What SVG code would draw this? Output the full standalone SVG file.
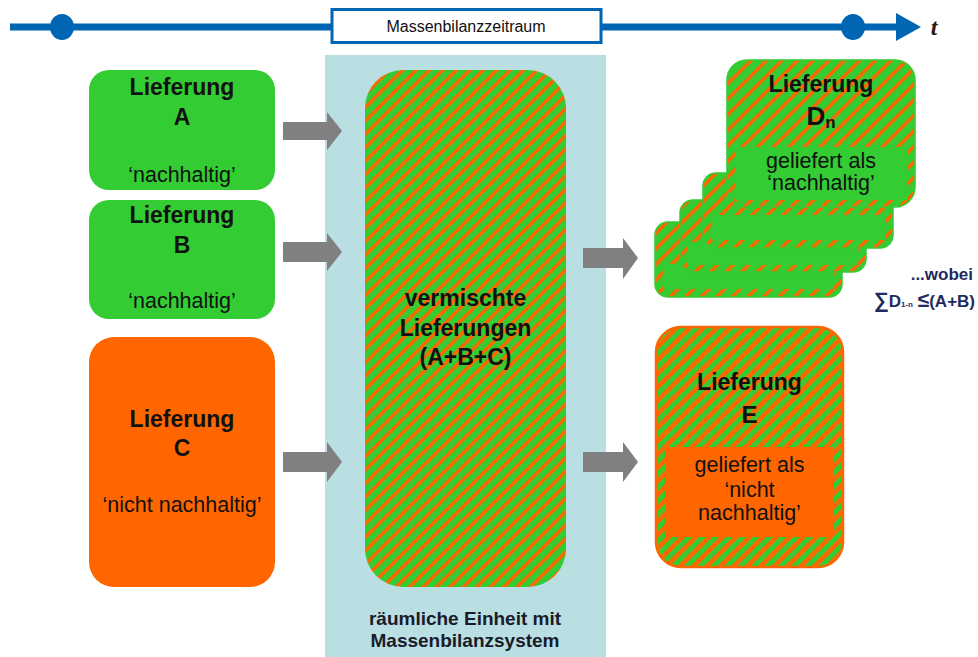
<svg xmlns="http://www.w3.org/2000/svg" width="978" height="657" viewBox="0 0 978 657">
<defs>
<pattern id="stripeG" patternUnits="userSpaceOnUse" width="9.5" height="9.5" patternTransform="rotate(45)">
<rect width="9.5" height="9.5" fill="#33cc33"/>
<rect width="3.5" height="9.5" fill="#ff6600"/>
</pattern>
<pattern id="stripeD" patternUnits="userSpaceOnUse" width="11" height="11" patternTransform="rotate(45)">
<rect width="11" height="11" fill="#33cc33"/>
<rect width="3.5" height="11" fill="#ff6600"/>
</pattern>
<pattern id="stripeO" patternUnits="userSpaceOnUse" width="9.5" height="9.5" patternTransform="rotate(45)">
<rect width="9.5" height="9.5" fill="#ff6600"/>
<rect width="5" height="9.5" fill="#33cc33"/>
</pattern>
</defs>
<style>
text{font-family:"Liberation Sans",Arial,sans-serif;fill:#111;text-anchor:middle}
.b{font-weight:bold;font-size:23px}
.r{font-size:21.5px}
.lt{font-size:23px;font-weight:bold}
.green{fill:#33cc33}
.orange{fill:#ff6600}
.arrow{fill:#808080}
.card{fill:url(#stripeD);stroke:#33cc33;stroke-width:1.5}
.navy{fill:#1f2a60;font-weight:bold}
</style>
<rect width="978" height="657" fill="#ffffff"/>

<g id="timeline">
<rect x="10" y="23.5" width="890" height="7" fill="#0066b3"/>
<polygon points="896,13 921,27 896,41" fill="#0066b3"/>
<ellipse cx="62" cy="27" rx="12" ry="13" fill="#0066b3"/>
<ellipse cx="853" cy="27" rx="12" ry="13" fill="#0066b3"/>
<rect x="332" y="9.5" width="269" height="33" fill="#ffffff" stroke="#0066b3" stroke-width="3"/>
<text x="466" y="32" style="font-size:16px">Massenbilanzzeitraum</text>
<text x="934" y="35" style="font-family:'Liberation Serif',serif;font-style:italic;font-weight:bold;font-size:24px;fill:#2a1a10">t</text>
</g>

<g id="mass-balance-unit">
<rect x="325" y="55" width="281" height="602" fill="#b9dfe3"/>
<text x="465" y="625" style="font-weight:bold;font-size:19px;fill:#1a1a2a">räumliche Einheit mit</text>
<text x="465" y="647" style="font-weight:bold;font-size:19px;fill:#1a1a2a">Massenbilanzsystem</text>
</g>

<g id="node-A">
<rect x="89" y="70" width="186" height="120" rx="20" class="green"/>
<text x="182" y="95" class="lt">Lieferung</text>
<text x="182" y="125" class="lt">A</text>
<text x="182" y="182" class="r">‘nachhaltig’</text>
</g>

<g id="node-B">
<rect x="89" y="200" width="186" height="119" rx="20" class="green"/>
<text x="182" y="223" class="lt">Lieferung</text>
<text x="182" y="253" class="lt">B</text>
<text x="182" y="308" class="r">‘nachhaltig’</text>
</g>

<g id="node-C">
<rect x="89" y="337" width="186" height="250" rx="25" class="orange"/>
<text x="182" y="427" class="lt">Lieferung</text>
<text x="182" y="456" class="lt">C</text>
<text x="182" y="512" class="r">‘nicht nachhaltig’</text>
</g>

<g id="node-mixed">
<rect x="365" y="70" width="201" height="517" rx="38" fill="url(#stripeG)"/>
<text x="465.5" y="306" class="b">vermischte</text>
<text x="465.5" y="336" class="b">Lieferungen</text>
<text x="465.5" y="365" class="b">(A+B+C)</text>
</g>

<g id="node-D">
<rect x="655" y="222" width="187" height="75" rx="13" class="card"/>
<rect x="663" y="264" width="171" height="25" class="green"/>
<rect x="680" y="200" width="186" height="72" rx="13" class="card"/>
<rect x="688" y="242" width="170" height="23" class="green"/>
<rect x="703" y="173" width="190" height="75" rx="13" class="card"/>
<rect x="711" y="215" width="174" height="25" class="green"/>
<rect x="727" y="60" width="188" height="147" rx="20" class="card"/>
<rect x="735" y="147" width="172" height="53" class="green"/>
<text x="821" y="92" class="lt">Lieferung</text>
<text x="821" y="125" style="font-weight:bold;font-size:26px">D<tspan style="font-size:17px" dy="3">n</tspan></text>
<text x="821" y="168" class="r">geliefert als</text>
<text x="821" y="190" class="r">‘nachhaltig’</text>
</g>

<g id="note-sum">
<text x="973" y="280" class="navy" style="text-anchor:end;font-size:17px">...wobei</text>
<text x="975" y="307" class="navy" style="text-anchor:end;font-size:17px"><tspan style="font-size:21px">∑</tspan>D<tspan style="font-size:8px">1-n</tspan> <tspan style="font-size:21px">≤</tspan>(A+B)</text>
</g>

<g id="node-E">
<rect x="656" y="327" width="187" height="240" rx="25" fill="url(#stripeO)" stroke="#ff6600" stroke-width="2.5"/>
<rect x="665" y="447" width="169" height="90" class="orange"/>
<text x="749.5" y="390" class="lt">Lieferung</text>
<text x="749.5" y="423" style="font-weight:bold;font-size:24px">E</text>
<text x="749.5" y="472" class="r">geliefert als</text>
<text x="749.5" y="497" class="r">‘nicht</text>
<text x="749.5" y="520" class="r">nachhaltig’</text>
</g>

<g id="connectors">
<polygon class="arrow" points="283,122 327,122 327,112 342,131 327,150 327,140 283,140"/>
<polygon class="arrow" points="283,242 327,242 327,233 342,252 327,271 327,262 283,262"/>
<polygon class="arrow" points="283,452 327,452 327,442 342,462 327,482 327,472 283,472"/>
<polygon class="arrow" points="583,248 623,248 623,238 638,258 623,279 623,268 583,268"/>
<polygon class="arrow" points="583,452 623,452 623,442 638,462 623,482 623,472 583,472"/>
</g>
</svg>
